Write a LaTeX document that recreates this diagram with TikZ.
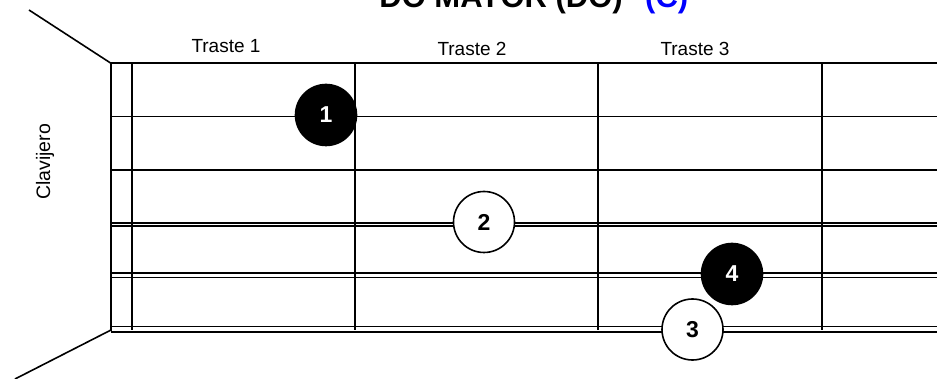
\documentclass[tikz,border=0pt]{standalone}
\usepackage{fontspec}
\setmainfont{Liberation Sans}
\begin{document}
\begin{tikzpicture}[x=1pt,y=-1pt,
  gridline/.style={line width=1.6pt, black},
  finger/.style={circle, draw=black, line width=1.6pt, minimum size=61pt, inner sep=0pt,
    font=\fontsize{23}{26}\bfseries\selectfont},
  openfinger/.style={finger, fill=white, text=black},
  solidfinger/.style={finger, fill=black, text=white},
  lbl/.style={font=\fontsize{19}{22}\selectfont, inner sep=0pt, anchor=base},
  titletext/.style={font=\fontsize{31}{36}\bfseries\selectfont, inner sep=0pt}]
\useasboundingbox (0,0) rectangle (937,379);
% title (cut off at the top, as in the reference)
\node[titletext, anchor=base east] (title) at (623,8) {DO MAYOR (DO)};
\node[titletext, anchor=base west, text=blue] (key) at (645,8) {(C)};
% fret labels
\node[lbl] (t1) at (226,52.7) {Traste 1};
\node[lbl] (t2) at (472,55.5) {Traste 2};
\node[lbl] (t3) at (695,55.5) {Traste 3};
% headstock label
\node[font=\fontsize{19.5}{22}\selectfont, rotate=90, inner sep=0pt] (clav) at (45,162) {Clavijero};
% headstock diagonals
\coordinate (ntop) at (111,63.3);
\coordinate (nbot) at (111,330);
\coordinate (htop) at (29,10);
\coordinate (hbot) at (15,379);
\draw[gridline] (htop) -- (ntop);
\draw[gridline] (nbot) -- (hbot);
% vertical lines
\draw[gridline] (111,63.3) -- (111,331);
\foreach \x in {131.7,355,598,822} \draw[gridline] (\x,63.3) -- (\x,329.5);
% strings
\foreach \y in {63.3,116.7,170,223,225.8,273.3,277.5,326.7,332}
  \draw[gridline] (111,\y) -- (937,\y);
% fingers
\node[solidfinger] (f1) at (326,115) {1};
\node[openfinger] (f2) at (484,222) {2};
\node[solidfinger] (f4) at (732,274) {4};
\node[openfinger] (f3) at (692.5,329.5) {3};
\end{tikzpicture}
\end{document}
